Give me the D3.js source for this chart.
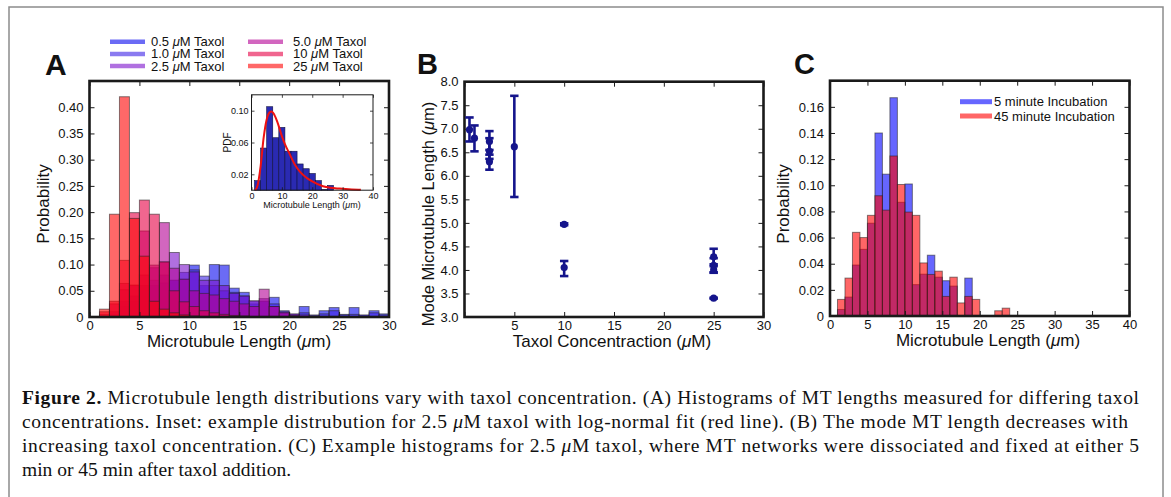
<!DOCTYPE html>
<html><head><meta charset="utf-8">
<script src="https://cdn.jsdelivr.net/npm/d3@7"></script>
<style>
html,body{margin:0;padding:0;background:#fff;}
svg{display:block;}
text{font-family:"Liberation Sans",Arial,Helvetica,sans-serif;fill:#111;}
</style></head><body>
<svg id="fig" width="1171" height="497"></svg>
<script>
// ---------- Panel A: length histograms per taxol concentration (1 µm bins, 0–30) ----------
const concLabels = ["0.5", "1.0", "2.5", "5.0", "10", "25"];
const binStartA = d3.range(0, 30);
const prob05 = [0, 0, 0, 0.02, 0.03, 0.05, 0.06, 0.065, 0.07, 0.072, 0.099, 0.06, 0.1, 0.099, 0.055, 0.047, 0.025, 0.03, 0.0375, 0.012, 0.004, 0.02, 0.002, 0.012, 0.018, 0.005, 0.018, 0.003, 0.012, 0.006];
const prob10 = [0, 0, 0.005, 0.03, 0.04, 0.06, 0.07, 0.08, 0.07, 0.085, 0.09, 0.078, 0.06, 0.05, 0.047, 0.04, 0.03, 0.03, 0.025, 0.008, 0.005, 0.008, 0.004, 0.006, 0.012, 0.004, 0.005, 0.004, 0.008, 0.004];
const prob25 = [0, 0, 0.01, 0.052, 0.06, 0.08, 0.094, 0.105, 0.123, 0.1, 0.086, 0.07, 0.07, 0.06, 0.045, 0.04, 0.031, 0.035, 0.02, 0.01, 0.006, 0.004, 0.002, 0, 0, 0, 0, 0, 0, 0];
const prob50 = [0, 0.005, 0.025, 0.064, 0.061, 0.164, 0.099, 0.18, 0.093, 0.072, 0.05, 0.045, 0.042, 0.035, 0.03, 0.025, 0.02, 0.053, 0.02, 0.008, 0.003, 0, 0, 0, 0, 0, 0, 0, 0, 0];
const prob100 = [0, 0.01, 0.03, 0.108, 0.199, 0.223, 0.196, 0.105, 0.05, 0.029, 0.02, 0.012, 0.008, 0.005, 0.003, 0.002, 0, 0, 0, 0, 0, 0, 0, 0, 0, 0, 0, 0, 0, 0];
const prob250 = [0, 0.015, 0.196, 0.42, 0.188, 0.116, 0.03, 0.015, 0.008, 0.004, 0.002, 0, 0, 0, 0, 0, 0, 0, 0, 0, 0, 0, 0, 0, 0, 0, 0, 0, 0, 0];
const seriesA = [prob05, prob10, prob25, prob50, prob100, prob250];
const colorsA = ["#0808ee", "#3c21e6", "#7b11cb", "#b40094", "#e60044", "#ff0303"];

// Inset: 2.5 µM example distribution (2 µm bins starting at 1 µm) and log-normal fit
const insetBinStart = [1, 3, 5, 7, 9, 11, 13, 15, 17, 19, 21, 23, 25];
const insetPdf = [0.012, 0.053, 0.105, 0.066, 0.079, 0.049, 0.049, 0.033, 0.027, 0.021, 0.012, 0.001, 0.006];
const fitLength = [1.2, 2, 3, 4, 5, 6, 6.6, 7.5, 8.5, 10, 11, 12.5, 14.3, 16, 18, 20, 23.5, 26, 29, 33, 36];
const fitPdf = [0, 0.006, 0.03, 0.066, 0.089, 0.098, 0.099, 0.095, 0.086, 0.068, 0.058, 0.046, 0.032, 0.023, 0.016, 0.011, 0.005, 0.003, 0.002, 0.001, 0.0005];

// ---------- Panel B: mode length vs taxol concentration ----------
const bConc = [0.5, 1.0, 2.5, 2.5, 2.5, 5, 10, 10, 25, 25, 25, 25];
const bMode = [6.98, 6.80, 6.73, 6.52, 6.30, 6.62, 4.97, 4.05, 4.28, 4.10, 4.00, 3.40];
const bLow  = [6.73, 6.52, 6.55, 6.36, 6.13, 5.55, 4.95, 3.87, 4.12, 3.95, 3.94, 3.39];
const bHigh = [7.24, 7.07, 6.95, 6.80, 6.45, 7.70, 4.99, 4.19, 4.45, 4.25, 4.08, 3.41];

// ---------- Panel C: 2.5 µM, 5 min vs 45 min incubation (1 µm bins starting at 1 µm) ----------
const binStartC = d3.range(1, 24);
const prob5min  = [0.005, 0.0145, 0.039, 0.051, 0.071, 0.140, 0.1085, 0.167, 0.087, 0.101, 0.024, 0.032, 0.0465, 0.0297, 0.027, 0.0229, 0, 0.029, 0, 0, 0, 0, 0];
const prob45min = [0.0127, 0.029, 0.064, 0.060, 0.077, 0.092, 0.081, 0.1224, 0.1006, 0.0795, 0.077, 0.0406, 0.0318, 0.0343, 0.015, 0.0297, 0.010, 0.015, 0.0127, 0, 0, 0.004, 0.006];
const incubationLabels = ["5 minute Incubation", "45 minute Incubation"];
const colorsC = ["#0000ff", "#ff0000"];

const captionLines = [
  [["Figure 2.", "b"], [" Microtubule length distributions vary with taxol concentration. (A) Histograms of MT lengths measured for differing taxol", ""]],
  [["concentrations. Inset: example distrubution for 2.5 ", ""], ["\u03bc", "i"], ["M taxol with log-normal fit (red line). (B) The mode MT length decreases with", ""]],
  [["increasing taxol concentration. (C) Example histograms for 2.5 ", ""], ["\u03bc", "i"], ["M taxol, where MT networks were dissociated and fixed at either 5", ""]],
  [["min or 45 min after taxol addition.", ""]]
];

const svg = d3.select("#fig");
const INK = "#1a1a1a";
const ALPHA = 0.6;

// frame border
svg.append("rect").attr("x", 9).attr("y", 7).attr("width", 1154).attr("height", 500)
  .attr("fill", "none").attr("stroke", "#8c8c8c").attr("stroke-width", 1.5);

function muLabel(sel, pre, post) {
  sel.append("tspan").text(pre);
  sel.append("tspan").attr("font-style", "italic").text("\u03bc");
  sel.append("tspan").text(post);
  return sel;
}

function axes(g, x, y, o) {
  const [x0, x1] = x.range();
  const [y0, y1] = y.range();
  const tl = o.tick || 5, fs = o.fs || 13;
  const fix = s => { s.select(".domain").remove(); s.attr("font-size", fs).attr("font-family", null);
    s.selectAll("line").attr("stroke", INK).attr("stroke-width", o.tw || 1); s.selectAll("text").attr("fill", "#111"); };
  g.append("g").attr("transform", `translate(0,${y0})`)
    .call(d3.axisBottom(x).tickValues(o.xt).tickFormat(o.xf).tickSize(-tl).tickPadding(o.xpad || 4)).call(fix);
  g.append("g").attr("transform", `translate(0,${y1})`)
    .call(d3.axisTop(x).tickValues(o.xt).tickFormat("").tickSize(-tl)).call(fix);
  g.append("g").attr("transform", `translate(${x0},0)`)
    .call(d3.axisLeft(y).tickValues(o.yt).tickFormat(o.yf).tickSize(-tl).tickPadding(o.ypad || 6)).call(fix);
  g.append("g").attr("transform", `translate(${x1},0)`)
    .call(d3.axisRight(y).tickValues(o.yt).tickFormat("").tickSize(-tl)).call(fix);
  g.append("rect").attr("x", x0).attr("y", y1).attr("width", x1 - x0).attr("height", y0 - y1)
    .attr("fill", "none").attr("stroke", INK).attr("stroke-width", o.bw || 2.6);
}

const probFmt = d => d === 0 ? "0" : d3.format(".2f")(d);

// ================= Panel A =================
const gA = svg.append("g");
const xA = d3.scaleLinear().domain([0, 30]).range([89.5, 389]);
const yA = d3.scaleLinear().domain([0, 0.45]).range([317, 81]);
seriesA.forEach((vals, si) => {
  gA.append("g").selectAll("rect").data(binStartA.map((b, i) => ({ b, v: vals[i] })).filter(d => d.v > 0))
    .join("rect")
    .attr("x", d => xA(d.b)).attr("width", d => xA(d.b + 1) - xA(d.b))
    .attr("y", d => yA(d.v)).attr("height", d => yA(0) - yA(d.v))
    .attr("fill", colorsA[si]).attr("fill-opacity", ALPHA)
    .attr("stroke", "#222").attr("stroke-opacity", 0.55).attr("stroke-width", 1);
});
axes(gA, xA, yA, { xt: d3.range(0, 31, 5), xf: d3.format("d"), yt: d3.range(0, 0.4001, 0.05), yf: probFmt });
gA.append("text").attr("transform", `translate(49,204) rotate(-90)`).attr("text-anchor", "middle")
  .attr("font-size", 17).text("Probability");
muLabel(gA.append("text").attr("x", 239).attr("y", 347).attr("text-anchor", "middle").attr("font-size", 17),
  "Microtubule Length (", "m)");
gA.append("text").attr("x", 45).attr("y", 75).attr("font-size", 30).attr("font-weight", "bold").text("A");

// legend
concLabels.forEach((c, i) => {
  const col = Math.floor(i / 3), row = i % 3;
  const lx = col ? 248 : 110, ly = 41.7 + row * 12.2;
  gA.append("line").attr("x1", lx).attr("x2", lx + 35).attr("y1", ly).attr("y2", ly)
    .attr("stroke", colorsA[i]).attr("stroke-opacity", ALPHA).attr("stroke-width", 4.5);
  muLabel(gA.append("text").attr("x", lx + (col ? 45 : 41)).attr("y", ly + 4.5).attr("font-size", 13), c + " ", "M Taxol");
});

// inset
const gI = svg.append("g");
const xI = d3.scaleLinear().domain([0, 40]).range([251.5, 373]);
const yI = d3.scaleLinear().domain([0, 0.12]).range([190.2, 94.8]);
gI.append("rect").attr("x", 251.5).attr("y", 94.8).attr("width", 121.5).attr("height", 95.4).attr("fill", "#fff");
gI.selectAll("rect.bar").data(insetBinStart.map((b, i) => ({ b, v: insetPdf[i] })))
  .join("rect").attr("class", "bar")
  .attr("x", d => xI(d.b)).attr("width", d => xI(d.b + 2) - xI(d.b))
  .attr("y", d => yI(d.v)).attr("height", d => yI(0) - yI(d.v))
  .attr("fill", "#2a2ab2").attr("stroke", "#101040").attr("stroke-width", 0.6);
gI.append("path").datum(fitLength.map((l, i) => [l, fitPdf[i]]))
  .attr("d", d3.line().x(d => xI(d[0])).y(d => yI(d[1])).curve(d3.curveMonotoneX))
  .attr("fill", "none").attr("stroke", "#ee1111").attr("stroke-width", 2);
axes(gI, xI, yI, { xt: [0, 10, 20, 30, 40], xf: d3.format("d"), yt: [0.02, 0.06, 0.10], yf: d3.format(".2f"),
  tick: 3, fs: 9, xpad: 2, ypad: 3, bw: 1, tw: 0.8 });
gI.append("text").attr("transform", `translate(231,142.5) rotate(-90)`).attr("text-anchor", "middle")
  .attr("font-size", 10).text("PDF");
muLabel(gI.append("text").attr("x", 312).attr("y", 208).attr("text-anchor", "middle").attr("font-size", 9),
  "Microtubule Length (", "m)");

// ================= Panel B =================
const gB = svg.append("g");
const xB = d3.scaleLinear().domain([0, 30]).range([464.5, 763.5]);
const yB = d3.scaleLinear().domain([3, 8]).range([317, 81.7]);
axes(gB, xB, yB, { xt: d3.range(0, 31, 5), xf: d => d === 0 ? "" : d3.format("d")(d),
  yt: d3.range(3, 8.001, 0.5), yf: d3.format(".1f") });
const NAVY = "#15158c";
const pts = bConc.map((c, i) => ({ c, m: bMode[i], lo: bLow[i], hi: bHigh[i] }));
const eb = gB.append("g").attr("stroke", NAVY).attr("stroke-width", 2.6);
eb.selectAll("line.v").data(pts).join("line").attr("class", "v")
  .attr("x1", d => xB(d.c)).attr("x2", d => xB(d.c)).attr("y1", d => yB(d.lo)).attr("y2", d => yB(d.hi));
eb.selectAll("line.lo").data(pts).join("line").attr("class", "lo")
  .attr("x1", d => xB(d.c) - 4.2).attr("x2", d => xB(d.c) + 4.2).attr("y1", d => yB(d.lo)).attr("y2", d => yB(d.lo));
eb.selectAll("line.hi").data(pts).join("line").attr("class", "hi")
  .attr("x1", d => xB(d.c) - 4.2).attr("x2", d => xB(d.c) + 4.2).attr("y1", d => yB(d.hi)).attr("y2", d => yB(d.hi));
gB.selectAll("circle").data(pts).join("circle")
  .attr("cx", d => xB(d.c)).attr("cy", d => yB(d.m)).attr("r", 3.6).attr("fill", NAVY);
muLabel(gB.append("text").attr("transform", `translate(434,214) rotate(-90)`).attr("text-anchor", "middle").attr("font-size", 16.5),
  "Mode Microtubule Length (", "m)");
muLabel(gB.append("text").attr("x", 612).attr("y", 347).attr("text-anchor", "middle").attr("font-size", 17),
  "Taxol Concentraction (", "M)");
gB.append("text").attr("x", 417).attr("y", 74).attr("font-size", 29).attr("font-weight", "bold").text("B");

// ================= Panel C =================
const gC = svg.append("g");
const xC = d3.scaleLinear().domain([0, 40]).range([830, 1129.5]);
const yC = d3.scaleLinear().domain([0, 0.18]).range([316, 80.7]);
[prob5min, prob45min].forEach((vals, si) => {
  gC.append("g").selectAll("rect").data(binStartC.map((b, i) => ({ b, v: vals[i] })).filter(d => d.v > 0))
    .join("rect")
    .attr("x", d => xC(d.b)).attr("width", d => xC(d.b + 1) - xC(d.b))
    .attr("y", d => yC(d.v)).attr("height", d => yC(0) - yC(d.v))
    .attr("fill", colorsC[si]).attr("fill-opacity", ALPHA)
    .attr("stroke", "#222").attr("stroke-opacity", 0.55).attr("stroke-width", 1);
});
axes(gC, xC, yC, { xt: d3.range(0, 41, 5), xf: d3.format("d"), yt: d3.range(0, 0.1601, 0.02), yf: probFmt });
incubationLabels.forEach((t, i) => {
  const ly = 101.7 + i * 14.3;
  gC.append("line").attr("x1", 960).attr("x2", 992).attr("y1", ly).attr("y2", ly)
    .attr("stroke", colorsC[i]).attr("stroke-opacity", ALPHA).attr("stroke-width", 5);
  gC.append("text").attr("x", 994).attr("y", ly + 4.6).attr("font-size", 13).text(t);
});
gC.append("text").attr("transform", `translate(789,204) rotate(-90)`).attr("text-anchor", "middle")
  .attr("font-size", 17).text("Probability");
muLabel(gC.append("text").attr("x", 988).attr("y", 346).attr("text-anchor", "middle").attr("font-size", 17),
  "Microtubule Length (", "m)");
gC.append("text").attr("x", 794).attr("y", 74).attr("font-size", 29).attr("font-weight", "bold").text("C");

// ================= Caption =================
const capEnds = [1139, 1128, 1139, null];
captionLines.forEach((parts, li) => {
  const t = svg.append("text").attr("x", 22).attr("y", 404 + li * 24)
    .style("font-family", '"Liberation Serif","Times New Roman",serif').attr("font-size", 19.5);
  parts.forEach(([s, st]) => {
    const ts = t.append("tspan").text(s);
    if (st === "b") ts.attr("font-weight", "bold");
    if (st === "i") ts.attr("font-style", "italic");
  });
  if (capEnds[li]) t.attr("textLength", capEnds[li] - 22).attr("lengthAdjust", "spacing");
});
</script>
</body></html>
